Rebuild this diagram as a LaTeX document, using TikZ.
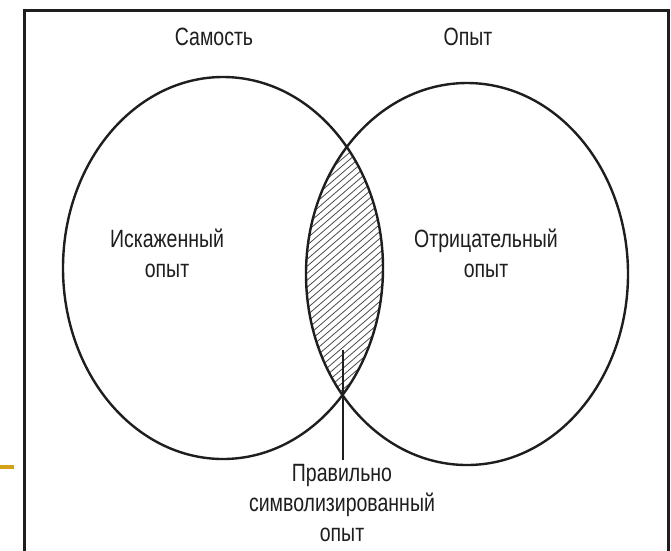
\documentclass[tikz,border=0pt]{standalone}
\usepackage{fontspec}
\setmainfont{Liberation Sans}[FakeStretch=0.78]
\definecolor{slidegold}{RGB}{212,160,23}
\definecolor{ink}{RGB}{30,30,30}
\tikzset{
  lbl/.style={text=ink, align=center, inner sep=2pt,
    font=\fontsize{25}{30}\selectfont},
  ring/.style={line width=2.4pt, ink},
  hatch/.style={line width=0.8pt, ink!80}
}
\begin{document}
\begin{tikzpicture}[x=1pt,y=-1pt]
\useasboundingbox (0,0) rectangle (671,550);
\fill[white] (0,0) rectangle (671,550);

\draw[line width=3pt, ink] (24,560) -- (24,10) -- (668,10) -- (668,560);
\draw[line width=4pt, slidegold] (0,467) -- (14,467);

\begin{scope}
\clip (223,268) ellipse [x radius=160, y radius=191];
\clip (467,274) ellipse [x radius=161, y radius=191];
\foreach \k in {120,127,...,500}
  \draw[hatch] (290,\k) -- ++(110,-95);
\end{scope}

\draw[ring] (223,268) ellipse [x radius=160, y radius=191];
\draw[ring] (467,274) ellipse [x radius=161, y radius=191];

\node[lbl] (self) at (214,37) {Самость};
\node[lbl] (exper) at (468,37) {Опыт};
\node[lbl] (distort) at (167,253) {Искаженный\\опыт};
\node[lbl] (negat) at (486,253) {Отрицательный\\опыт};
\node[lbl, inner sep=4pt] (truesym) at (342,503)
  {Правильно\\символизированный\\опыт};

\coordinate (tip) at (343,350);
\draw[line width=1.2pt, ink] (tip) -- (tip |- truesym.north);
\end{tikzpicture}
\end{document}
